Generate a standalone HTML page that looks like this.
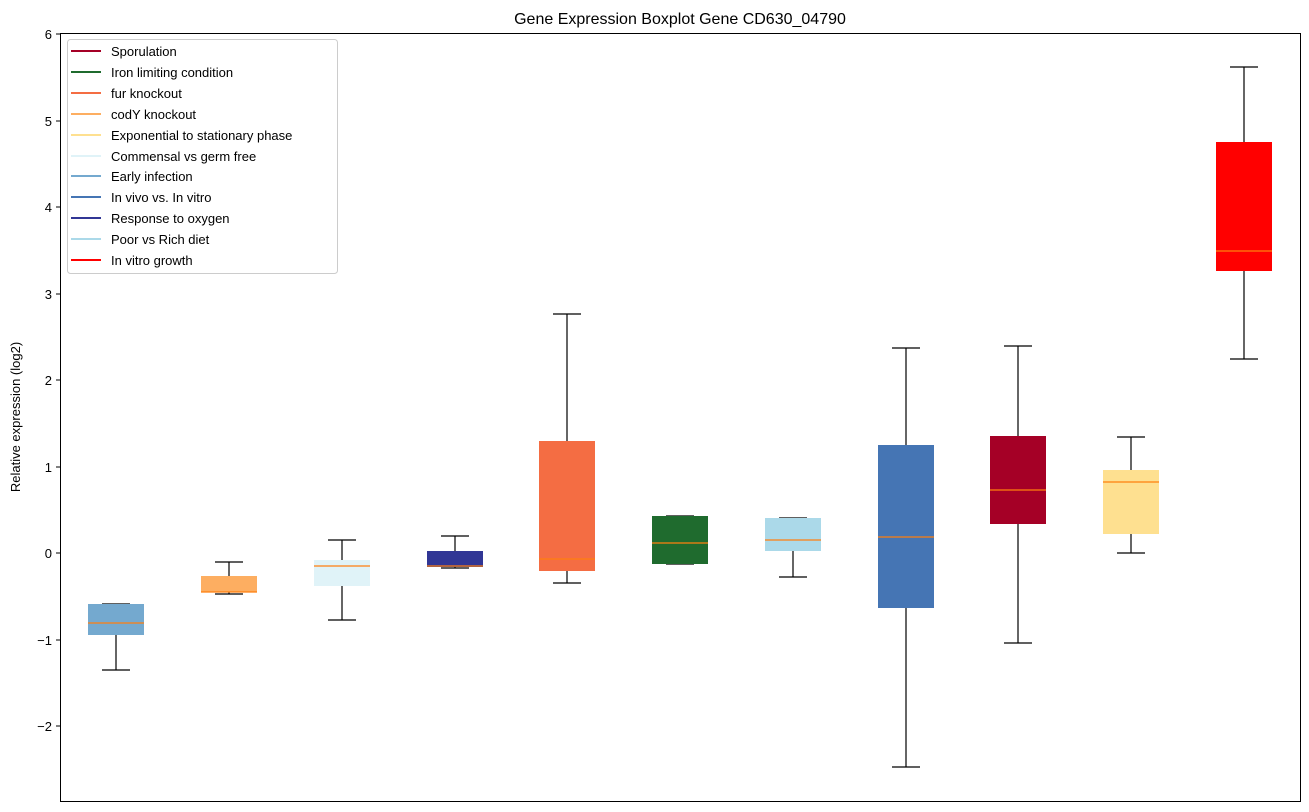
<!DOCTYPE html>
<html><head><style>body{margin:0;background:#fff}svg{display:block}text{font-family:"Liberation Sans","DejaVu Sans",sans-serif;fill:#000}</style></head><body>
<svg width="1309" height="812" xmlns="http://www.w3.org/2000/svg">
<text x="680" y="24" font-size="16" text-anchor="middle">Gene Expression Boxplot Gene CD630_04790</text>
<text transform="translate(20,417) rotate(-90)" font-size="13" text-anchor="middle">Relative expression (log2)</text>
<g font-size="13" text-anchor="end">
<line x1="56" x2="60" y1="34" y2="34" stroke="#000"/><text x="52" y="39">6</text>
<line x1="56" x2="60" y1="121" y2="121" stroke="#000"/><text x="52" y="126">5</text>
<line x1="56" x2="60" y1="207" y2="207" stroke="#000"/><text x="52" y="212">4</text>
<line x1="56" x2="60" y1="294" y2="294" stroke="#000"/><text x="52" y="299">3</text>
<line x1="56" x2="60" y1="380" y2="380" stroke="#000"/><text x="52" y="385">2</text>
<line x1="56" x2="60" y1="467" y2="467" stroke="#000"/><text x="52" y="472">1</text>
<line x1="56" x2="60" y1="553" y2="553" stroke="#000"/><text x="52" y="558">0</text>
<line x1="56" x2="60" y1="640" y2="640" stroke="#000"/><text x="52" y="645">−1</text>
<line x1="56" x2="60" y1="726" y2="726" stroke="#000"/><text x="52" y="731">−2</text>
</g>
<g stroke="#000" stroke-width="1.2">
<path d="M102 604H130M116 635V670M102 670H130"/>
<path d="M229 562V576M215 562H243M229 592V594M215 594H243" />
<path d="M342 540V560M328 540H356M342 586V620M328 620H356"/>
<path d="M455 536V551M441 536H469M455 567V568M441 568H469"/>
<path d="M567 314V441M553 314H581M567 571V583M553 583H581"/>
<path d="M666 516H694M666 564H694"/>
<path d="M779 518H807M793 551V577M779 577H807"/>
<path d="M906 348V445M892 348H920M906 608V767M892 767H920"/>
<path d="M1018 346V436M1004 346H1032M1018 524V643M1004 643H1032"/>
<path d="M1131 437V470M1117 437H1145M1131 534V553M1117 553H1145"/>
<path d="M1244 67V142M1230 67H1258M1244 271V359M1230 359H1258"/>
</g>
<g>
<rect x="88" y="604" width="56" height="31" fill="#74a9cf"/>
<rect x="201" y="576" width="56" height="16" fill="#fdae61"/>
<rect x="314" y="560" width="56" height="26" fill="#e0f3f8"/>
<rect x="427" y="551" width="56" height="16" fill="#313695"/>
<rect x="539" y="441" width="56" height="130" fill="#f46d43"/>
<rect x="652" y="516" width="56" height="48" fill="#1f6b2e"/>
<rect x="765" y="518" width="56" height="33" fill="#abd9e9"/>
<rect x="878" y="445" width="56" height="163" fill="#4575b4"/>
<rect x="990" y="436" width="56" height="88" fill="#a50026"/>
<rect x="1103" y="470" width="56" height="64" fill="#fee090"/>
<rect x="1216" y="142" width="56" height="129" fill="#ff0000"/>
</g>
<g stroke="#ff7f0e" stroke-width="1.2">
<path d="M88 623H144M201 592H257M314 566H370M427 566H483M539 559H595M652 543H708M765 540H821M878 537H934M990 490H1046M1103 482H1159M1216 251H1272"/>
</g>
<rect x="60.5" y="33.5" width="1240" height="768" fill="none" stroke="#000"/>
<rect x="67.5" y="39.5" width="270" height="234" rx="3" fill="#fff" fill-opacity="0.8" stroke="#ccc"/>
<g stroke-width="2">
<line x1="71" x2="101" y1="51" y2="51" stroke="#a50026"/>
<line x1="71" x2="101" y1="72" y2="72" stroke="#1f6b2e"/>
<line x1="71" x2="101" y1="93" y2="93" stroke="#f46d43"/>
<line x1="71" x2="101" y1="114" y2="114" stroke="#fdae61"/>
<line x1="71" x2="101" y1="135" y2="135" stroke="#fee090"/>
<line x1="71" x2="101" y1="156" y2="156" stroke="#e0f3f8"/>
<line x1="71" x2="101" y1="176" y2="176" stroke="#74a9cf"/>
<line x1="71" x2="101" y1="197" y2="197" stroke="#4575b4"/>
<line x1="71" x2="101" y1="218" y2="218" stroke="#313695"/>
<line x1="71" x2="101" y1="239" y2="239" stroke="#abd9e9"/>
<line x1="71" x2="101" y1="260" y2="260" stroke="#ff0000"/>
</g>
<g font-size="13">
<text x="111" y="56">Sporulation</text>
<text x="111" y="77">Iron limiting condition</text>
<text x="111" y="98">fur knockout</text>
<text x="111" y="119">codY knockout</text>
<text x="111" y="140">Exponential to stationary phase</text>
<text x="111" y="161">Commensal vs germ free</text>
<text x="111" y="181">Early infection</text>
<text x="111" y="202">In vivo vs. In vitro</text>
<text x="111" y="223">Response to oxygen</text>
<text x="111" y="244">Poor vs Rich diet</text>
<text x="111" y="265">In vitro growth</text>
</g>
</svg>
</body></html>
